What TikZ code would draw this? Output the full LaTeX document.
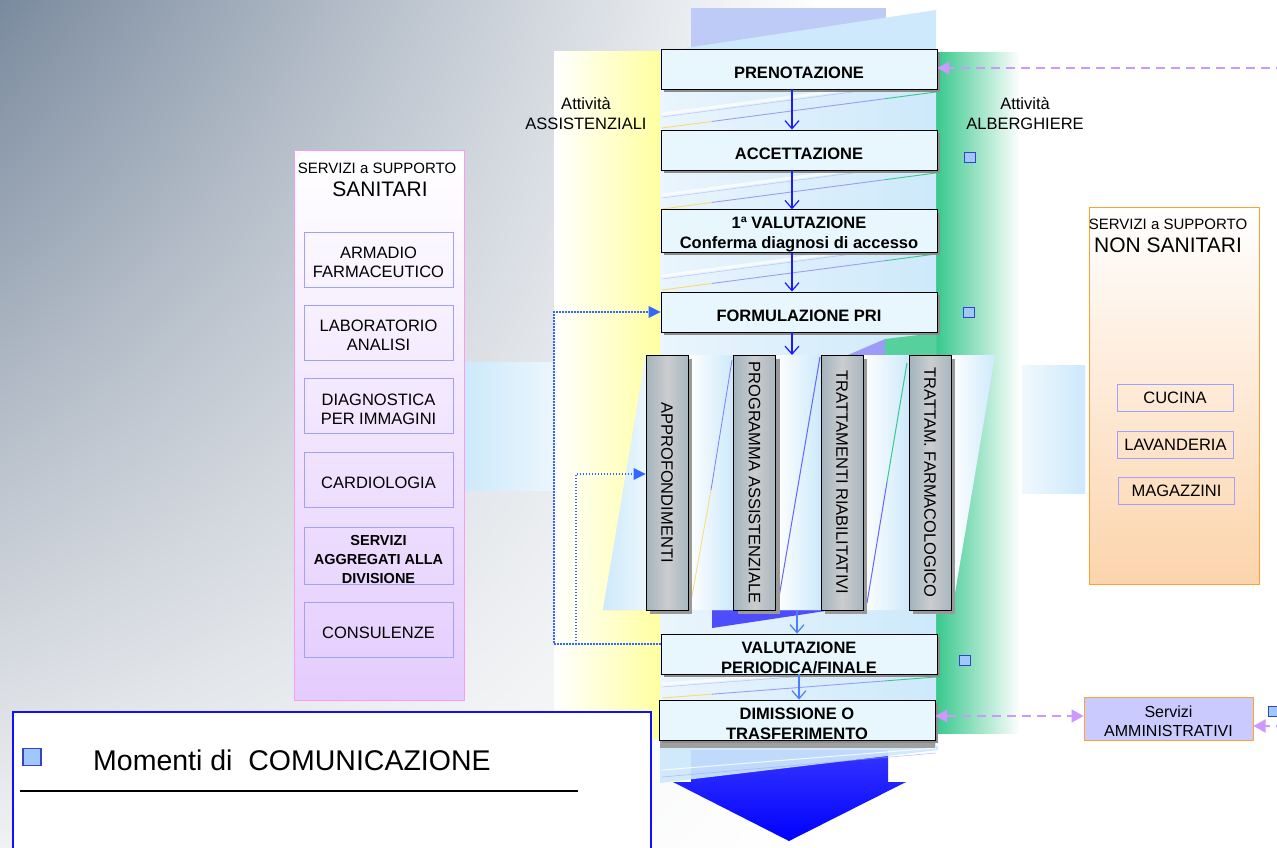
\documentclass[tikz,border=0pt]{standalone}
\usepackage{fontspec}
\setmainfont{Liberation Sans}
\usetikzlibrary{arrows.meta,shadows,calc,shadings}
\definecolor{slate}{HTML}{7A8A9E}
\definecolor{bgll}{HTML}{F0F1F3}
\definecolor{procfill}{HTML}{E8F6FD}
\definecolor{yel}{HTML}{FFFFA0}
\definecolor{grn}{HTML}{38C88C}
\definecolor{lblue}{HTML}{CDE9FB}
\definecolor{colL}{HTML}{EAF5FC}
\definecolor{peri}{HTML}{BDCBF6}
\definecolor{pinkb}{HTML}{FF99EE}
\definecolor{lav}{HTML}{E4CCFE}
\definecolor{orng}{HTML}{FFA033}
\definecolor{peach}{HTML}{FCD4AC}
\definecolor{subb}{HTML}{A0A0FF}
\definecolor{sqf}{HTML}{A0C8FC}
\definecolor{sqb}{HTML}{3344CC}
\definecolor{pdash}{HTML}{CC99FF}
\definecolor{dotb}{HTML}{3366FF}
\definecolor{flowb}{HTML}{1A1AFF}
\definecolor{flowc}{HTML}{4A7FFF}
\definecolor{legb}{HTML}{1010FF}
\definecolor{vgA}{HTML}{A2B3BC}
\definecolor{vgB}{HTML}{CBCDCF}
\definecolor{vgC}{HTML}{A9B7BF}
\definecolor{admfill}{HTML}{CACAFF}
\definecolor{wedgeb}{HTML}{4D4DFF}
\definecolor{wedgep}{HTML}{9C9CF8}
\definecolor{bigtop}{HTML}{3535FF}
\newcommand\procstrut{\rule{0pt}{19pt}}
\newcommand\substrut{\rule{0pt}{18pt}}
\begin{document}
\begin{tikzpicture}[x=1pt,y=-1pt,
  reg/.style={font=\fontsize{16.5}{20}\selectfont, align=center, inner sep=0pt},
  proc/.style={draw=black, line width=0.9pt, fill=procfill, minimum width=276pt, minimum height=40pt,
    inner sep=0pt, align=center, font=\bfseries\fontsize{16.5}{20}\selectfont,
    drop shadow={shadow xshift=3pt, shadow yshift=-3pt, fill=black!45, opacity=1}},
  vbox/.style={draw=black, line width=0.9pt, minimum width=42pt, minimum height=255pt, inner sep=0pt,
    left color=vgA, right color=vgC, middle color=vgB,
    drop shadow={shadow xshift=4pt, shadow yshift=-4pt, fill=black!40, opacity=1}},
  vtext/.style={rotate=-90, font=\fontsize{16.5}{20}\selectfont, inner sep=0pt},
  sub/.style={draw=subb, line width=1pt, minimum width=149pt, minimum height=55pt, inner sep=0pt,
    align=center, font=\fontsize{16.5}{19}\selectfont},
  nsub/.style={draw=subb, line width=1pt, minimum width=116pt, minimum height=27pt, inner sep=0pt,
    font=\fontsize{16.5}{19}\selectfont},
  sq/.style={draw=sqb, fill=sqf, line width=1pt, minimum width=11pt, minimum height=10pt, inner sep=0pt},
  flow/.style={draw=flowb, line width=1.2pt, -{Straight Barb[length=8pt,width=14pt,line width=1.2pt]}},
  flowl/.style={draw=flowc, line width=1.2pt, -{Straight Barb[length=8pt,width=14pt,line width=1.2pt]}},
  pd/.style={draw=pdash, line width=2pt, dash pattern=on 9pt off 6pt},
  dotl/.style={draw=dotb, line width=1.1pt, dash pattern=on 1.2pt off 1.8pt}
]
\useasboundingbox (0,0) rectangle (1277,847);
% background
\fill[white] (0,0) rectangle (1277,847);
\shade[upper left=slate, upper right=white, lower left=bgll, lower right=white] (0,0) rectangle (820,847);
% top decoration
\fill[peri] (691,8) rectangle (886,50);
\fill[lblue] (672,50) -- (936,10) -- (936,50) -- cycle;
% bands
\shade[left color=white, right color=yel] (554,51) rectangle (660,738);
\shade[left color=grn, right color=white] (936,52) rectangle (1020,733);
% central column
\shade[left color=colL, right color=lblue] (660,50) rectangle (936,746);
\foreach \a/\b in {89/130,170/211,251/292,674/700}{
  \begin{scope}
    \clip (660,\a) rectangle (936,\b);
    \coordinate (gA) at (662,{\b-2});
    \coordinate (gB) at (936,{\a+3});
    \draw[white, line width=3pt, opacity=0.7] ($(gA)+(0,-14)$) -- ($(gB)+(0,-14)$);
    \draw[wedgep, line width=0.6pt, opacity=0.5] ($(gA)+(0,-11)$) -- ($(gB)+(0,-11)$);
    \draw[yel!70!orange, line width=0.9pt] (gA) -- ($(gA)!0.1825!(gB)$);
    \draw[wedgep, line width=0.9pt] ($(gA)!0.1825!(gB)$) -- ($(gA)!0.814!(gB)$);
    \draw[grn, line width=0.9pt] ($(gA)!0.814!(gB)$) -- (gB);
  \end{scope}
}
% wedges
\fill[wedgep] (848,355) -- (885,339) -- (885,355) -- cycle;
\fill[grn!85] (885,339) -- (936,333) -- (936,355) -- (885,355) -- cycle;
\fill[wedgeb] (712,610) -- (832,610) -- (712,628) -- cycle;
% parallelogram behind vertical boxes
\fill[lblue] (603,610) -- (646,355) -- (995,355) -- (952,610) -- cycle;
\begin{scope}
  \clip (603,610) -- (646,355) -- (995,355) -- (952,610) -- cycle;
  \shade[left color=lblue, right color=lblue!40!white] (603,355) rectangle (646,610);
  \shade[left color=white, right color=lblue] (688,355) rectangle (733,610);
  \shade[left color=white, right color=lblue] (776,355) rectangle (821,610);
  \shade[left color=white, right color=lblue] (863,355) rectangle (909,610);
  \shade[left color=white, right color=lblue] (951,355) rectangle (995,610);
\end{scope}
\draw[yel!70!orange, line width=0.8pt] (690,607) -- (711,490);
\draw[wedgep!80!blue, line width=0.8pt] (711,490) -- (732,360);
\draw[blue!60, line width=1pt] (778,603) -- (820,357);
\draw[blue!60, line width=1pt] (867,603) -- (887,482);
\draw[grn, line width=1pt] (887,482) -- (907,363);
% big bottom arrow
\shade[top color=bigtop, bottom color=blue] (691,750) -- (888,750) -- (888,782) -- (906,782) -- (789,841) -- (673,782) -- (691,782) -- cycle;
\fill[lblue, opacity=0.92] (660,746) -- (938,746) -- (938,750) -- (660,783) -- cycle;
\draw[white, line width=1pt, opacity=0.8] (662,770) -- (936,748);
\draw[wedgep, line width=0.6pt, opacity=0.6] (662,777) -- (936,753);
\fill[gray!75] (660,740) rectangle (935,748);
% side light-blue strips
\shade[left color=lblue, right color=lblue!40!white] (465,362) rectangle (553,490);
\shade[left color=lblue!30!white, right color=lblue] (1022,365) rectangle (1085,493);

% band labels
\node[reg] (lassist) at (586,114) {Attività\\ASSISTENZIALI};
\node[reg] (lalb) at (1025,114) {Attività\\ALBERGHIERE};

% process boxes
\node[proc] (pren) at (799,69) {\procstrut PRENOTAZIONE};
\node[proc] (acc) at (799,150) {\procstrut ACCETTAZIONE};
\node[proc] (val1) at (799,231) {\procstrut 1ª VALUTAZIONE\\Conferma diagnosi di accesso};
\node[proc] (form) at (799,312) {\procstrut FORMULAZIONE PRI};
\node[proc] (valp) at (799,654) {\procstrut VALUTAZIONE\\PERIODICA/FINALE};
\node[proc] (dim) at (797,720) {\procstrut DIMISSIONE O\\TRASFERIMENTO};

% vertical boxes
\node[vbox] (v1) at (667,482.5) {};
\node[vbox] (v2) at (754.5,482.5) {};
\node[vbox] (v3) at (842,482.5) {};
\node[vbox] (v4) at (930,482.5) {};
\node[vtext] (t1) at (v1) {APPROFONDIMENTI};
\node[vtext] (t2) at (v2) {PROGRAMMA ASSISTENZIALE};
\node[vtext] (t3) at (v3) {TRATTAMENTI RIABILITATIVI};
\node[vtext] (t4) at (v4) {TRATTAM. FARMACOLOGICO};

% flow arrows
\coordinate (ax) at (792,0);
\coordinate (ptop) at (792,355);
\coordinate (pbot) at (797,610);
\coordinate (ax2) at (799,0);
\draw[flow] (pren.south -| ax) -- (acc.north -| ax);
\draw[flow] (acc.south -| ax) -- (val1.north -| ax);
\draw[flow] (val1.south -| ax) -- (form.north -| ax);
\draw[flow] (form.south -| ax) -- (ptop);
\draw[flowl] (pbot) -- (valp.north -| pbot);
\draw[flowl] (valp.south -| ax2) -- (dim.north -| ax2);

% dotted feedback arrows
\coordinate (d1) at (554,644);
\coordinate (d2) at (554,312);
\coordinate (d3) at (576,644);
\coordinate (d4) at (576,474);
\draw[dotl] (valp.west |- d1) -- (d1) -- (d2) -- ($(form.west)+(-10,0)$);
\fill[dotb] (form.west) -- ++(-12,-6) -- ++(0,12) -- cycle;
\draw[dotl] (d3) -- (d4) -- ($(v1.west |- d4)+(-10,0)$);
\fill[dotb] (v1.west |- d4) -- ++(-12,-6) -- ++(0,12) -- cycle;

% left panel
\node[draw=pinkb, line width=1pt, top color=white, bottom color=lav, minimum width=170pt, minimum height=550pt, inner sep=0pt] (san) at (379,425) {};
\node[font=\fontsize{15}{17}\selectfont, inner sep=0pt] (sanh1) at (377,168) {SERVIZI a SUPPORTO};
\node[font=\fontsize{21}{24}\selectfont, inner sep=0pt] (sanh2) at (380,189) {SANITARI};
\node[sub] (s1) at (378.5,259.5) {\substrut ARMADIO\\FARMACEUTICO};
\node[sub] (s2) at (378.5,332.5) {\substrut LABORATORIO\\ANALISI};
\node[sub] (s3) at (378.5,406) {\substrut DIAGNOSTICA\\PER IMMAGINI};
\node[sub] (s4) at (378.5,480) {\substrut CARDIOLOGIA};
\node[sub, font=\bfseries\fontsize{14.5}{19}\selectfont] (s5) at (378.5,556) {\substrut SERVIZI\\AGGREGATI ALLA\\DIVISIONE};
\node[sub] (s6) at (378.5,629.5) {\substrut CONSULENZE};

% right panel
\node[draw=orng, line width=1pt, top color=white, bottom color=peach, minimum width=170pt, minimum height=377pt, inner sep=0pt] (nsan) at (1174,395.5) {};
\node[font=\fontsize{15}{17}\selectfont, inner sep=0pt] (nsh1) at (1168,224) {SERVIZI a SUPPORTO};
\node[font=\fontsize{21}{24}\selectfont, inner sep=0pt] (nsh2) at (1168,245) {NON SANITARI};
\node[nsub] (n1) at (1175,397.5) {CUCINA};
\node[nsub] (n2) at (1175.5,444.5) {LAVANDERIA};
\node[nsub] (n3) at (1176.5,490.5) {MAGAZZINI};

% administrative services
\node[draw=orng, line width=1pt, fill=admfill, minimum width=169pt, minimum height=43pt, inner sep=0pt, align=center, font=\fontsize{16}{19}\selectfont] (adm) at (1168.5,718.5) {\substrut Servizi\\AMMINISTRATIVI};

% purple dashed arrows
\coordinate (r1) at (1285,68);
\coordinate (arY) at (0,716);
\coordinate (r2) at (1285,726);
\draw[pd, -{Triangle[length=12pt,width=13pt]}] (r1) -- (pren.east |- r1);
\draw[pd, {Triangle[length=12pt,width=13pt]}-{Triangle[length=12pt,width=13pt]}] (dim.east |- arY) -- (adm.west |- arY);
\draw[pd, -{Triangle[length=12pt,width=13pt]}] (r2) -- (adm.east |- r2);

% communication squares
\node[sq] (q1) at (970,157) {};
\node[sq] (q2) at (969,312) {};
\node[sq] (q3) at (965,660) {};
\node[sq] (q4) at (1274,711) {};

% legend
\node[draw=legb, line width=1.5pt, fill=white, minimum width=638pt, minimum height=150pt, inner sep=0pt, anchor=north west] (leg) at (12,711) {};
\node[sq, line width=1.5pt, minimum width=18pt, minimum height=17pt] (lsq) at (32,757) {};
\node[font=\fontsize{28.5}{32}\selectfont, anchor=west, inner sep=0pt] (legt) at (93,760) {Momenti di \ COMUNICAZIONE};
\draw[black, line width=1.5pt] (20,791) -- (578,791);
\end{tikzpicture}
\end{document}
